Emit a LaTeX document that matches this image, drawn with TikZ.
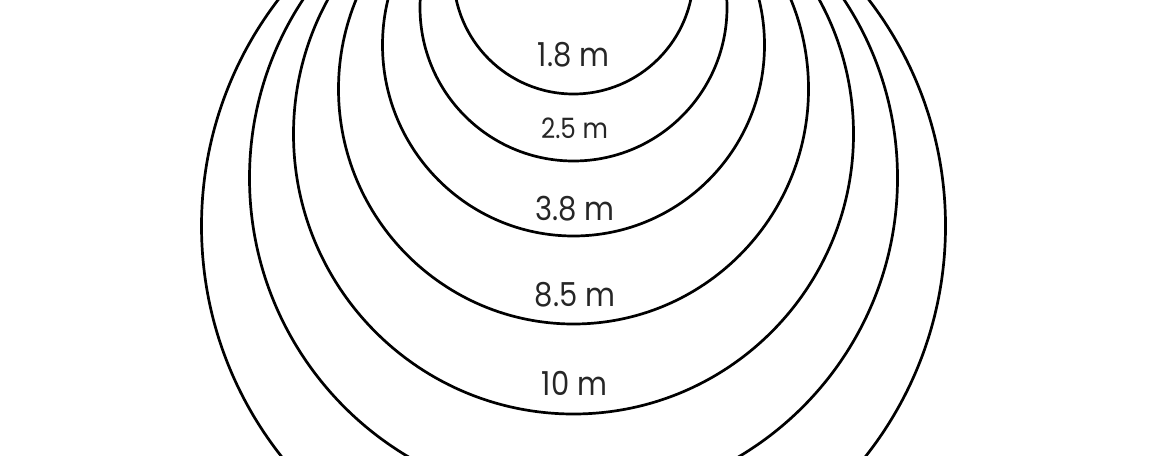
\documentclass[tikz,border=0pt]{standalone}
\usepackage{fontspec}
\setmainfont{Poppins}
\begin{document}
\begin{tikzpicture}[x=1pt,y=1pt,
  ring/.style={line width=2.7pt, draw=black},
  lab/.style={inner sep=0pt, text=black!85, xscale=0.88, transform shape, font=\fontsize{33}{33}\selectfont},
  labsmall/.style={inner sep=0pt, text=black!85, xscale=0.88, transform shape, font=\fontsize{28}{28}\selectfont}]
\useasboundingbox (0,0) rectangle (1150,-455);
\clip (0,0) rectangle (1150,-455);
\foreach \r in {120,153.5,191,235,280,324,372}
  \draw[ring] (573.5,{146-\r}) circle (\r);
\node[lab] (l1) at (573.5,-55) {1.8 m};
\node[labsmall] (l2) at (574.5,-128) {2.5 m};
\node[lab] (l3) at (575,-209) {3.8 m};
\node[lab] (l4) at (575,-295) {8.5 m};
\node[lab] (l5) at (574.5,-383) {10 m};
\end{tikzpicture}
\end{document}
